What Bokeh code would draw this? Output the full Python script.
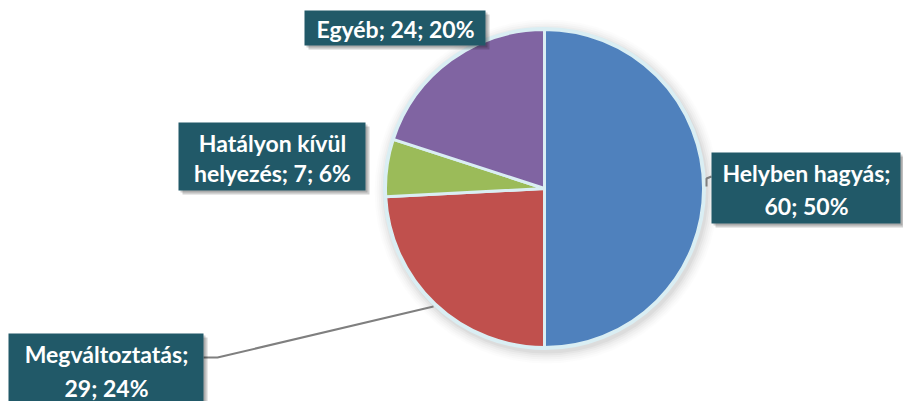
import math
from bokeh.plotting import figure
from bokeh.models import Range1d
from bokeh.core.properties import value
from bokeh.embed import file_html
from bokeh.resources import INLINE

# ---- data ----
categories = ["Helyben hagyás", "Megváltoztatás", "Hatályon kívül helyezés", "Egyéb"]
values = [60, 29, 7, 24]
colors = ["#4f81bd", "#c0504d", "#9bbb59", "#8064a2"]

total = sum(values)
percents = [round(v * 100 / total) for v in values]
labels = [f"{c}; {v}; {p}%" for c, v, p in zip(categories, values, percents)]

# ---- layout (screen pixels of the 903x401 page) ----
W, H = 903, 401
def sx(x): return x
def sy(y): return H - y

cx, cy, R = 544, 188, 159

# label boxes: (left, top, right, bottom), line y centres, text x centre, first line
boxes = {
    "Helyben hagyás": ((711, 152, 900, 223), [172, 205], 806, "Helyben hagyás;"),
    "Megváltoztatás": ((8, 333, 203, 412), [353, 387], 106, "Megváltoztatás;"),
    "Hatályon kívül helyezés": ((178, 122, 365, 190), [142, 172], 272, "Hatályon kívül"),
    "Egyéb": ((304, 10, 485, 45), [28], 395, None),
}

p = figure(width=W, height=H, output_backend="svg", toolbar_location=None,
           x_range=Range1d(0, W), y_range=Range1d(0, H), min_border=0)
p.axis.visible = False
p.grid.visible = False
p.outline_line_color = None
p.background_fill_color = "white"
p.border_fill_color = "white"

# soft shadow around the pie
for i, a in enumerate([0.035, 0.03, 0.025, 0.02, 0.015, 0.01]):
    p.circle(x=sx(cx + 2), y=sy(cy + 3), radius=R + 3 + 2 * i,
             fill_color="#000000", fill_alpha=a, line_color=None)

# pie wedges, clockwise from 12 o'clock
start = math.pi / 2
starts, ends = [], []
for v in values:
    ang = 2 * math.pi * v / total
    starts.append(start)
    ends.append(start - ang)
    start -= ang
p.wedge(x=sx(cx), y=sy(cy), radius=R, start_angle=starts, end_angle=ends,
        direction="clock", fill_color=colors, line_color="#daeef3", line_width=3)
p.circle(x=sx(cx), y=sy(cy), radius=R + 1, fill_color=None,
         line_color="#daeef3", line_width=3)

# leader lines
p.line(x=[sx(203), sx(217), sx(433)], y=[sy(357), sy(357), sy(306)],
       line_color="#7f7f7f", line_width=2)
p.line(x=[sx(711), sx(706), sx(706)], y=[sy(176), sy(178), sy(186)],
       line_color="#7f7f7f", line_width=2)

# label boxes
for cat, lab in zip(categories, labels):
    (l, t, r, b), ys, tx, first = boxes[cat]
    p.quad(left=sx(l + 4), right=sx(r + 4), top=sy(t + 4), bottom=sy(b + 4),
           fill_color="#000000", fill_alpha=0.18, line_color=None)
    p.quad(left=sx(l + 2), right=sx(r + 2), top=sy(t + 2), bottom=sy(b + 2),
           fill_color="#000000", fill_alpha=0.18, line_color=None)
    p.quad(left=sx(l), right=sx(r), top=sy(t), bottom=sy(b),
           fill_color="#215968", line_color=None)
    if first:
        lines = [first, lab[len(first):].strip()]
    else:
        lines = [lab]
    p.text(x=[sx(tx)] * len(lines), y=[sy(y) for y in ys], text=lines,
           text_align="center", text_baseline="middle",
           text_font=value("Lato"), text_font_style="bold",
           text_font_size="23px", text_color="white")

open("out.html", "w").write(file_html(p, INLINE))
